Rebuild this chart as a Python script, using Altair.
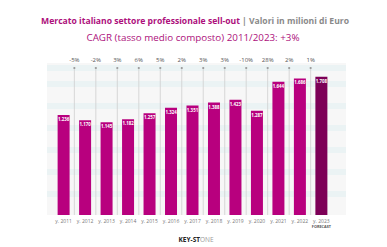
import altair as alt
import pandas as pd

years = [2011, 2012, 2013, 2014, 2015, 2016, 2017, 2018, 2019, 2020, 2021, 2022, 2023]
values = [1.236, 1.170, 1.145, 1.182, 1.257, 1.324, 1.351, 1.388, 1.423, 1.287, 1.644, 1.686, 1.708]
value_labels = ["1.236", "1.170", "1.145", "1.182", "1.257", "1.324", "1.351",
                "1.388", "1.423", "1.287", "1.644", "1.686", "1.708"]
growth = ["-5%", "-2%", "3%", "6%", "5%", "2%", "3%", "3%", "-10%", "28%", "2%", "1%"]
x_labels = ["y. %d" % y for y in years]
forecast = [False] * 12 + [True]

title_main = ["Mercato italiano settore professionale sell-out"]
title_unit = ["| Valori in milioni di Euro"]
title_cagr = ["CAGR (tasso medio composto) 2011/2023: +3%"]

FONT = "Open Sans"
MAGENTA = "#b8007e"
DARK = "#7d0057"

bars_df = pd.DataFrame({
    "idx": list(range(len(years))),
    "value": values,
    "label": value_labels,
    "xlabel": x_labels,
    "forecast": forecast,
})
growth_df = pd.DataFrame({"pos": [i + 0.5 for i in range(len(growth))], "growth": growth})

xs = alt.Scale(domain=[-0.5, 12.5], range=[39.875, 329.125])
ys = alt.Scale(domain=[0, 2.556], range=[207, 0])
X = alt.X("idx:Q", scale=xs, axis=None)
Y = alt.Y("value:Q", scale=ys, axis=None)

# decorative plot background with faint bands
bg = alt.Chart(pd.DataFrame({"a": [0]})).mark_rect(color="#f7f7f7").encode(
    x=alt.value(39), x2=alt.value(338), y=alt.value(55), y2=alt.value(207))
bands_df = pd.DataFrame({"b0": [57, 73, 95, 117, 139, 161, 183],
                         "b1": [63, 79, 101, 123, 145, 167, 189]})
bands = alt.Chart(bands_df).mark_rect(color="#ebf3f4").encode(
    x=alt.value(39), x2=alt.value(338),
    y=alt.Y("b0:Q", scale=None), y2="b1:Q")

rules = alt.Chart(growth_df).mark_rule(color="#cfcfcf", strokeWidth=0.8).encode(
    x=alt.X("pos:Q", scale=xs, axis=None), y=alt.value(60), y2=alt.value(207))
dots = alt.Chart(growth_df).mark_circle(size=5, color="#999999", opacity=1).encode(
    x=alt.X("pos:Q", scale=xs, axis=None), y=alt.value(60))
gtext = alt.Chart(growth_df).mark_text(font=FONT, fontSize=6, color="#555555").encode(
    x=alt.X("pos:Q", scale=xs, axis=None), y=alt.value(52), text="growth:N")

bars = alt.Chart(bars_df).mark_bar(width=12).encode(
    x=X, y=Y,
    color=alt.condition(alt.datum.forecast, alt.value(DARK), alt.value(MAGENTA)))
vlabels = alt.Chart(bars_df).mark_text(font=FONT, fontSize=4.4, fontWeight="bold",
                                       color="white", dy=5).encode(x=X, y=Y, text="label:N")
xlab = alt.Chart(bars_df).mark_text(font=FONT, fontSize=5, color="#777777").encode(
    x=X, y=alt.value(213), text="xlabel:N")
fc = alt.Chart(bars_df).transform_filter(alt.datum.forecast).mark_text(
    text="FORECAST", font=FONT, fontSize=3.8, fontWeight="bold", color="#555555").encode(
    x=X, y=alt.value(218.5))

t1 = alt.Chart(pd.DataFrame({"t": title_main})).mark_text(
    font=FONT, fontSize=8.6, fontWeight="bold", color="#ad107c", align="right").encode(
    x=alt.value(232), y=alt.value(13), text="t:N")
t2 = alt.Chart(pd.DataFrame({"t": title_unit})).mark_text(
    font=FONT, fontSize=8.6, fontWeight="bold", color="#8a8a8a", align="left").encode(
    x=alt.value(234), y=alt.value(13), text="t:N")
t3 = alt.Chart(pd.DataFrame({"t": title_cagr})).mark_text(
    font=FONT, fontSize=9.8, color="#ad107c").encode(
    x=alt.value(185), y=alt.value(30), text="t:N")

logo1 = alt.Chart(pd.DataFrame({"t": ["KEY-ST"]})).mark_text(
    font=FONT, fontSize=6.5, fontWeight="bold", color="#222222", align="right").encode(
    x=alt.value(192), y=alt.value(232), text="t:N")
logo2 = alt.Chart(pd.DataFrame({"t": ["ONE"]})).mark_text(
    font=FONT, fontSize=6.5, color="#999999", align="left").encode(
    x=alt.value(192), y=alt.value(232), text="t:N")

chart = alt.layer(bg, bands, rules, dots, gtext, bars, vlabels, xlab, fc, t1, t2, t3, logo1, logo2).properties(
    width=371, height=239, autosize=alt.AutoSizeParams(type="none"), padding=0,
    background="white"
).configure_view(stroke=None)

chart.save("out.html", embed_options={"renderer": "svg", "actions": False})
